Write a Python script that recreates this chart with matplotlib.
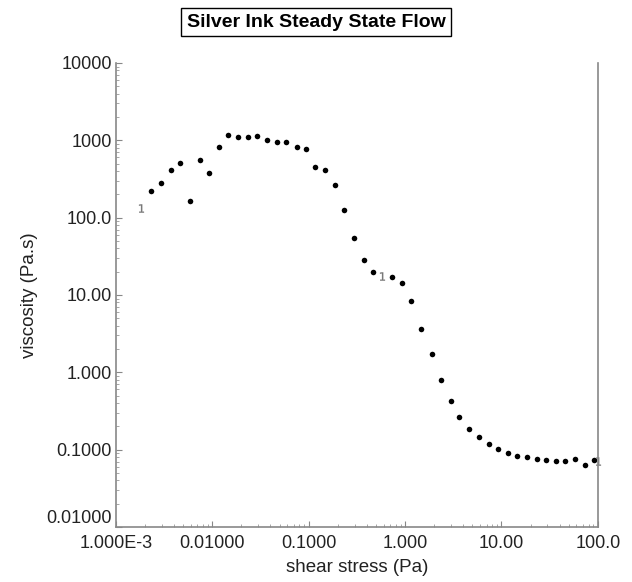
import numpy as np
import matplotlib.pyplot as plt
from matplotlib.ticker import FixedLocator, LogLocator, NullFormatter

plt.rcParams['font.family'] = ['Liberation Sans', 'DejaVu Sans']

# shear stress (Pa) and viscosity (Pa.s)
stress = [0.00231, 0.00291, 0.00369, 0.00461, 0.00582, 0.00738, 0.00929,
          0.01161, 0.01452, 0.01846, 0.02323, 0.02924, 0.0368, 0.0465,
          0.0585, 0.0750, 0.0936, 0.1167, 0.147, 0.187, 0.233, 0.292,
          0.374, 0.464, 0.730, 0.927, 1.157, 1.458, 1.883, 2.35, 2.96,
          3.64, 4.62, 5.78, 7.40, 9.18, 11.57, 14.45, 18.49, 23.1, 28.9,
          37.0, 45.8, 58.2, 72.8, 91.6]
viscosity = [221, 278, 409, 514, 164, 563, 382, 819, 1171, 1104, 1104,
             1137, 1000, 942, 962, 819, 765, 457, 413, 264, 124, 54.5,
             28.0, 19.8, 17.1, 14.4, 8.44, 3.62, 1.75, 0.802, 0.421,
             0.263, 0.186, 0.144, 0.118, 0.1015, 0.0912, 0.0834, 0.0793,
             0.0753, 0.0740, 0.0718, 0.0718, 0.0762, 0.0630, 0.0740]

# points drawn as "1" labels
lab_stress = [0.00182, 0.570, 100.0]
lab_visc = [133, 17.4, 0.072]

xticks = [1e-3, 1e-2, 1e-1, 1, 10, 100]
xlabels = ['1.000E-3', '0.01000', '0.1000', '1.000', '10.00', '100.0']
yticks = [1e-2, 1e-1, 1, 10, 100, 1000, 10000]
ylabels = ['0.01000', '0.1000', '1.000', '10.00', '100.0', '1000', '10000']

fig = plt.figure(figsize=(6.32, 5.82), dpi=100)
ax = fig.add_axes([0.1835, 0.0945, 0.7625, 0.7973])

ax.plot(stress, viscosity, 'o', color='black', markersize=4, markeredgewidth=0)
ax.plot(lab_stress, lab_visc, linestyle='none', marker='$1$', color='#777777',
        markersize=6, markeredgewidth=0.2, clip_on=False)

ax.set_xscale('log')
ax.set_yscale('log')
ax.set_xlim(1e-3, 100)
ax.set_ylim(1e-2, 1e4)

ax.xaxis.set_major_locator(FixedLocator(xticks))
ax.set_xticklabels(xlabels)
ax.yaxis.set_major_locator(FixedLocator(yticks))
ax.set_yticklabels(ylabels)
ax.xaxis.set_minor_locator(LogLocator(base=10, subs=np.arange(2, 10)))
ax.yaxis.set_minor_locator(LogLocator(base=10, subs=np.arange(2, 10)))
ax.xaxis.set_minor_formatter(NullFormatter())
ax.yaxis.set_minor_formatter(NullFormatter())

ax.tick_params(which='major', direction='in', length=4, width=0.8, color='#888888',
               labelsize=13, labelcolor='#222222')
ax.tick_params(axis='x', which='major', pad=6)
ax.tick_params(axis='y', which='major', pad=3)
ax.tick_params(which='minor', direction='in', length=2, width=0.6, color='#999999')
# bottom y label sits just above the axis line
ax.get_yticklabels()[0].set_verticalalignment('bottom')

ax.spines['top'].set_visible(False)
for s in ['left', 'bottom', 'right']:
    ax.spines[s].set_color('#888888')
    ax.spines[s].set_linewidth(1.2)

ax.set_xlabel('shear stress (Pa)', fontsize=13.5, color='#222222', labelpad=5)
ax.set_ylabel('viscosity (Pa.s)', fontsize=13.5, color='#222222', labelpad=6)

fig.text(0.5, 0.962, 'Silver Ink Steady State Flow', ha='center', va='center',
         fontsize=14, fontweight='bold',
         bbox=dict(boxstyle='square,pad=0.28', facecolor='white', edgecolor='black', linewidth=1))

fig.savefig('out.png', dpi=100)
